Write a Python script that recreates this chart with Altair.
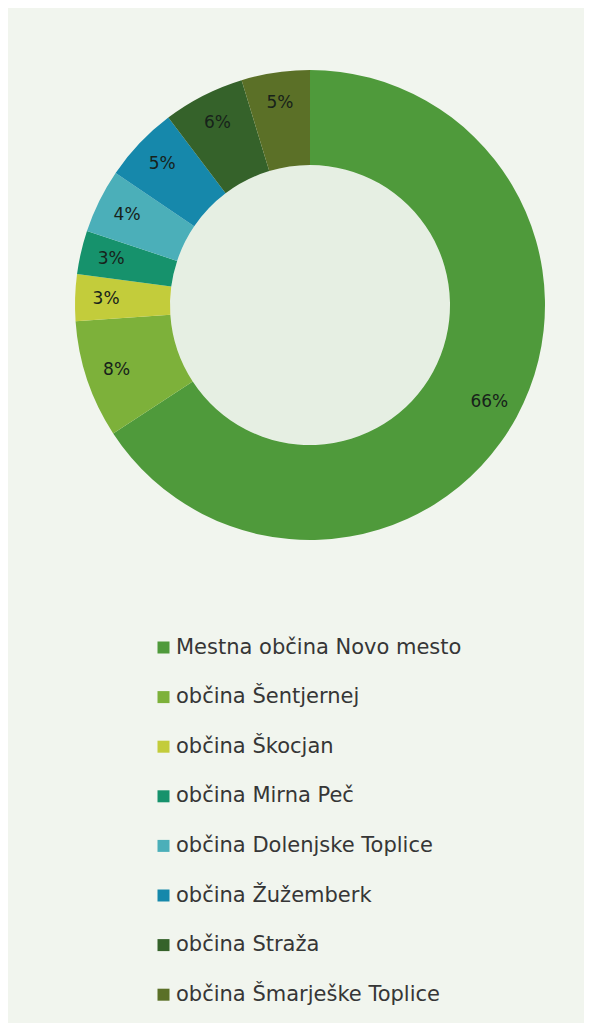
import altair as alt
import pandas as pd

names = [
    "Mestna občina Novo mesto",
    "občina Šentjernej",
    "občina Škocjan",
    "občina Mirna Peč",
    "občina Dolenjske Toplice",
    "občina Žužemberk",
    "občina Straža",
    "občina Šmarješke Toplice",
]
shares = [65.8, 8.1, 3.2, 3.0, 4.4, 5.2, 5.6, 4.7]
colors = ["#4f9a3b", "#7db13a", "#c3cc3b", "#16926c", "#4bafb9", "#1688ab", "#35622a", "#5b7027"]

df = pd.DataFrame({"name": names, "share": shares, "idx": list(range(len(names)))})

CX, CY = 302, 297
W, H = 576, 1015

base = alt.Chart(df).encode(
    theta=alt.Theta("share:Q", stack=True),
    order=alt.Order("idx:Q", sort="ascending"),
)

color = alt.Color(
    "name:N",
    scale=alt.Scale(domain=names, range=colors),
    legend=alt.Legend(
        orient="none", legendX=145, legendY=629, title=None,
        labelFontSize=21, labelFont="DejaVu Sans", labelColor="#363636",
        symbolType="square", symbolSize=144, symbolStrokeWidth=0,
        rowPadding=27.6, labelOffset=2, padding=0, labelLimit=600,
        direction="vertical",
    ),
)

hole = alt.Chart(pd.DataFrame({"v": [1]})).mark_arc(
    radius=140, x=CX, y=CY, theta=0, theta2=6.2832
).encode(color=alt.value("#e6efe3"))

arcs = base.mark_arc(innerRadius=140, outerRadius=235, x=CX, y=CY, strokeWidth=0).encode(color=color)

text = base.transform_calculate(label="round(datum.share) + '%'").mark_text(
    radius=204, x=CX, y=CY, fontSize=17, font="DejaVu Sans", color="#17221a"
).encode(text="label:N")

chart = alt.layer(hole, arcs, text).properties(
    width=W, height=H, padding=0, background="#f1f5ee"
).configure_view(stroke=None)

chart.save("out.html", embed_options={"renderer": "svg", "actions": False})
